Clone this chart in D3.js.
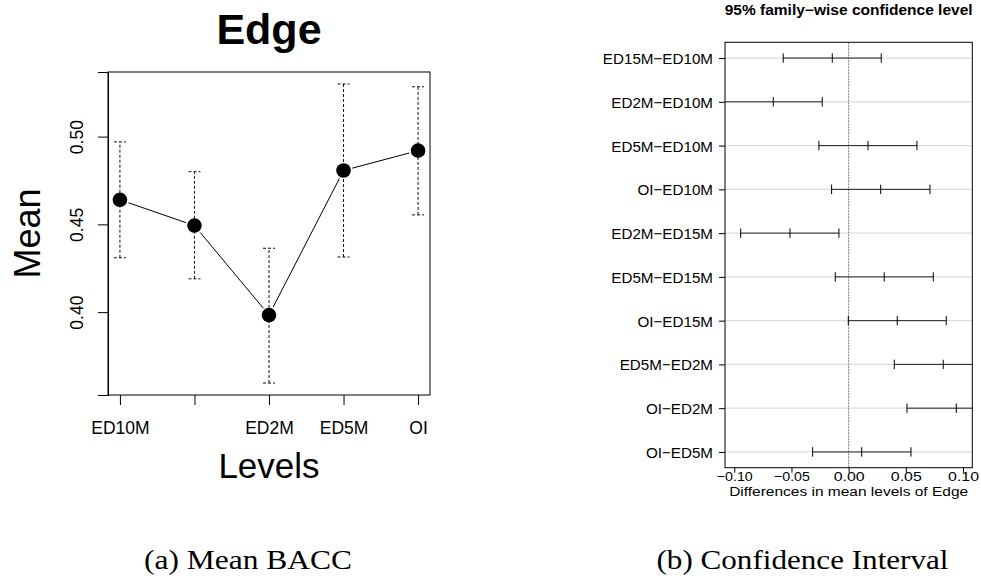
<!DOCTYPE html>
<html>
<head>
<meta charset="utf-8">
<script src="https://cdn.jsdelivr.net/npm/d3@7"></script>
<style>
  html, body { margin: 0; padding: 0; background: #fff; }
  svg { display: block; }
  text { font-family: "Liberation Sans", Arial, Helvetica, sans-serif; fill: #000; }
  .serif { font-family: "Liberation Serif", "DejaVu Serif", serif; }
</style>
</head>
<body>
<svg id="chart" width="981" height="579"></svg>
<script>
// ---------------- DATA ----------------
// Panel (a): mean BACC per level with error bars
const levels = ["ED10M", "ED15M", "ED2M", "ED5M", "OI"];
const levelTickLabels = ["ED10M", "", "ED2M", "ED5M", "OI"];
const meanValues = [0.464, 0.4493, 0.3983, 0.4807, 0.492];
const lowerValues = [0.431, 0.419, 0.3596, 0.4314, 0.4554];
const upperValues = [0.497, 0.480, 0.4364, 0.530, 0.5284];
const meanTicks = [0.40, 0.45, 0.50];

// Panel (b): Tukey HSD differences
const comparisons = ["ED15M\u2212ED10M", "ED2M\u2212ED10M", "ED5M\u2212ED10M", "OI\u2212ED10M",
  "ED2M\u2212ED15M", "ED5M\u2212ED15M", "OI\u2212ED15M", "ED5M\u2212ED2M", "OI\u2212ED2M", "OI\u2212ED5M"];
const diffValues = [-0.0143, -0.0659, 0.0169, 0.0280, -0.0513, 0.0311, 0.0425, 0.0827, 0.0941, 0.0114];
const diffLower = [-0.0572, -0.1089, -0.0260, -0.0149, -0.0944, -0.0117, -0.0003, 0.0399, 0.0510, -0.0315];
const diffUpper = [0.0285, -0.0231, 0.0597, 0.0711, -0.0085, 0.0740, 0.0853, 0.1255, 0.1370, 0.0545];
const diffTicks = [-0.10, -0.05, 0.00, 0.05, 0.10];
const diffTickLabels = ["\u22120.10", "\u22120.05", "0.00", "0.05", "0.10"];

// ---------------- DRAW ----------------
const svg = d3.select("#chart");

// ===== Panel (a) =====
const A = { left: 108, right: 430, top: 72, bottom: 395 };
const lo = d3.min(lowerValues), hi = d3.max(upperValues);
const pad = (hi - lo) * 0.04;
const xA = d3.scaleLinear().domain([1 - 0.16, levels.length + 0.16]).range([A.left, A.right]);
const yA = d3.scaleLinear().domain([lo - pad, hi + pad]).range([A.bottom, A.top]);

const gA = svg.append("g");

// title
gA.append("text").attr("x", (A.left + A.right) / 2).attr("y", 44)
  .attr("text-anchor", "middle").attr("font-size", 43).attr("font-weight", "bold").text("Edge");

// error bars (dashed)
const eb = gA.append("g").attr("stroke", "#111").attr("stroke-width", 1).attr("stroke-dasharray", "3,2").attr("fill", "none");
levels.forEach((l, i) => {
  const cx = xA(i + 1);
  eb.append("line").attr("x1", cx).attr("x2", cx).attr("y1", yA(lowerValues[i])).attr("y2", yA(upperValues[i]));
  eb.append("line").attr("x1", cx - 6).attr("x2", cx + 6).attr("y1", yA(lowerValues[i])).attr("y2", yA(lowerValues[i]));
  eb.append("line").attr("x1", cx - 6).attr("x2", cx + 6).attr("y1", yA(upperValues[i])).attr("y2", yA(upperValues[i]));
});

// connecting line segments with gaps (type = "b")
const gap = 9;
for (let i = 0; i < levels.length - 1; i++) {
  const x1 = xA(i + 1), y1 = yA(meanValues[i]), x2 = xA(i + 2), y2 = yA(meanValues[i + 1]);
  const len = Math.hypot(x2 - x1, y2 - y1);
  const ux = (x2 - x1) / len, uy = (y2 - y1) / len;
  gA.append("line")
    .attr("x1", x1 + ux * gap).attr("y1", y1 + uy * gap)
    .attr("x2", x2 - ux * gap).attr("y2", y2 - uy * gap)
    .attr("stroke", "#000").attr("stroke-width", 1);
}

// points
gA.selectAll("circle.pt").data(meanValues).enter().append("circle")
  .attr("class", "pt")
  .attr("cx", (d, i) => xA(i + 1)).attr("cy", d => yA(d)).attr("r", 7.3).attr("fill", "#000");

// box
gA.append("rect").attr("x", A.left).attr("y", A.top).attr("width", A.right - A.left).attr("height", A.bottom - A.top)
  .attr("fill", "none").attr("stroke", "#000").attr("stroke-width", 1);

// y axis
const yAxisA = d3.axisLeft(yA).tickValues(meanTicks).tickSize(10).tickFormat(d3.format(".2f"));
const gyA = gA.append("g").attr("transform", `translate(${A.left},0)`).call(yAxisA);
gyA.select(".domain").attr("stroke", "#000");
gyA.selectAll(".tick line").attr("stroke", "#000");
gyA.selectAll(".tick text")
  .attr("font-size", 17.5).attr("font-family", '"Liberation Sans", Arial, sans-serif')
  .attr("fill", "#000")
  .attr("text-anchor", "middle")
  .attr("x", 0).attr("dy", 0).attr("y", 0)
  .attr("transform", "translate(-25,0) rotate(-90)");

// x axis
const xAxisA = d3.axisBottom(xA).tickValues(d3.range(1, levels.length + 1)).tickSize(10)
  .tickFormat((d, i) => levelTickLabels[i]);
const gxA = gA.append("g").attr("transform", `translate(0,${A.bottom})`).call(xAxisA);
gxA.select(".domain").remove();
gxA.selectAll(".tick line").attr("stroke", "#000");
gxA.selectAll(".tick text")
  .attr("font-size", 17.5).attr("font-family", '"Liberation Sans", Arial, sans-serif')
  .attr("fill", "#000").attr("dy", 0).attr("y", 39);

// axis titles
gA.append("text").attr("transform", `translate(40,${(A.top + A.bottom) / 2}) rotate(-90)`)
  .attr("text-anchor", "middle").attr("font-size", 36).text("Mean");
gA.append("text").attr("x", (A.left + A.right) / 2).attr("y", 478)
  .attr("text-anchor", "middle").attr("font-size", 35).text("Levels");

// caption
gA.append("text").attr("class", "serif").attr("x", 248).attr("y", 569)
  .attr("text-anchor", "middle").attr("font-size", 28)
  .attr("textLength", 208).attr("lengthAdjust", "spacingAndGlyphs").text("(a) Mean BACC");

// ===== Panel (b) =====
const B = { left: 725, right: 972.3, top: 42.3, bottom: 467.7 };
const xB = d3.scaleLinear().domain([-0.1081, 0.1081]).range([B.left, B.right]);
const n = comparisons.length;
const yB = d3.scaleLinear().domain([1 - 0.36, n + 0.36]).range([B.top, B.bottom]);

const gB = svg.append("g");

gB.append("text").attr("x", (B.left + B.right) / 2).attr("y", 15)
  .attr("text-anchor", "middle").attr("font-size", 14).attr("font-weight", "bold")
  .attr("textLength", 248).attr("lengthAdjust", "spacingAndGlyphs")
  .text("95% family\u2212wise confidence level");

const clipId = "clipB";
svg.append("defs").append("clipPath").attr("id", clipId)
  .append("rect").attr("x", B.left).attr("y", B.top).attr("width", B.right - B.left).attr("height", B.bottom - B.top);

const inner = gB.append("g").attr("clip-path", `url(#${clipId})`);

// row grid lines
inner.selectAll("line.grid").data(comparisons).enter().append("line")
  .attr("x1", B.left).attr("x2", B.right)
  .attr("y1", (d, i) => yB(i + 1)).attr("y2", (d, i) => yB(i + 1))
  .attr("stroke", "#dcdcdc").attr("stroke-width", 1.2);

// zero line
inner.append("line").attr("x1", xB(0)).attr("x2", xB(0)).attr("y1", B.top).attr("y2", B.bottom)
  .attr("stroke", "#7a7a7a").attr("stroke-width", 1).attr("stroke-dasharray", "2,1");

// intervals
comparisons.forEach((c, i) => {
  const y = yB(i + 1);
  inner.append("line").attr("x1", xB(diffLower[i])).attr("x2", xB(diffUpper[i])).attr("y1", y).attr("y2", y)
    .attr("stroke", "#222").attr("stroke-width", 1);
  [diffLower[i], diffValues[i], diffUpper[i]].forEach(v => {
    inner.append("line").attr("x1", xB(v)).attr("x2", xB(v)).attr("y1", y - 4.7).attr("y2", y + 4.7)
      .attr("stroke", "#000").attr("stroke-width", 1);
  });
});

// box
gB.append("rect").attr("x", B.left).attr("y", B.top).attr("width", B.right - B.left).attr("height", B.bottom - B.top)
  .attr("fill", "none").attr("stroke", "#000").attr("stroke-width", 1);

// y axis (row labels)
const yAxisB = d3.axisLeft(yB).tickValues(d3.range(1, n + 1)).tickSize(6).tickPadding(6)
  .tickFormat((d, i) => comparisons[i]);
const gyB = gB.append("g").attr("transform", `translate(${B.left},0)`).call(yAxisB);
gyB.select(".domain").remove();
gyB.selectAll(".tick line").attr("stroke", "#000");
gyB.selectAll(".tick text").attr("font-size", 15.2)
  .attr("font-family", '"Liberation Sans", Arial, sans-serif').attr("fill", "#000").attr("dy", "0.36em");

// x axis
const xAxisB = d3.axisBottom(xB).tickValues(diffTicks).tickSize(5).tickFormat((d, i) => diffTickLabels[i]);
const gxB = gB.append("g").attr("transform", `translate(0,${B.bottom})`).call(xAxisB);
gxB.select(".domain").remove();
gxB.selectAll(".tick line").attr("stroke", "#000");
gxB.selectAll(".tick text").attr("font-size", 13)
  .attr("font-family", '"Liberation Sans", Arial, sans-serif').attr("fill", "#000")
  .attr("dy", 0).attr("y", 13)
  .attr("textLength", 36).attr("lengthAdjust", "spacingAndGlyphs");
gxB.selectAll(".tick text").filter((d, i) => diffTickLabels[i][0] !== "\u2212").attr("textLength", 31);

gB.append("text").attr("x", (B.left + B.right) / 2 + 0).attr("y", 496)
  .attr("text-anchor", "middle").attr("font-size", 12.5)
  .attr("textLength", 239).attr("lengthAdjust", "spacingAndGlyphs")
  .text("Differences in mean levels of Edge");

gB.append("text").attr("class", "serif").attr("x", 802.5).attr("y", 569)
  .attr("text-anchor", "middle").attr("font-size", 28)
  .attr("textLength", 292).attr("lengthAdjust", "spacingAndGlyphs").text("(b) Confidence Interval");
</script>
</body>
</html>
